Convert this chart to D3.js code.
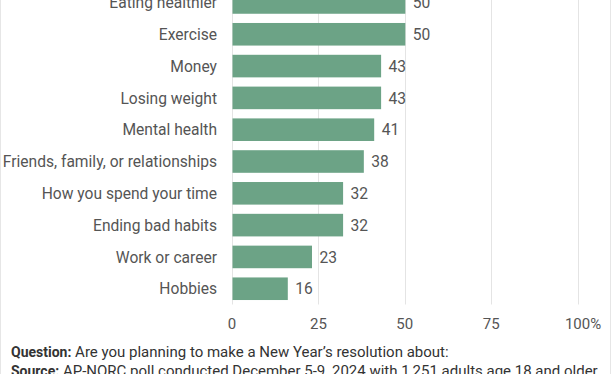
<!DOCTYPE html>
<html>
<head>
<meta charset="utf-8">
<script src="https://cdn.jsdelivr.net/npm/d3@7"></script>
<style>
  html, body { margin: 0; padding: 0; background: #fff; }
  svg { display: block; font-family: Roboto, sans-serif; }
</style>
</head>
<body>
<div id="chart"></div>
<script>
// Resolution topics, share of adults planning a resolution about each (%)
const categories = ['Eating healthier', 'Exercise', 'Money', 'Losing weight', 'Mental health',
  'Friends, family, or relationships', 'How you spend your time', 'Ending bad habits',
  'Work or career', 'Hobbies'];
const values = [50, 50, 43, 43, 41, 38, 32, 32, 23, 16];
const xTicks = [0, 25, 50, 75, 100];

const W = 612, H = 374;
const x0 = 232, x1 = 577.6;

const svg = d3.select('#chart').append('svg').attr('width', W).attr('height', H);

// frame edges
svg.append('line').attr('x1', 0.5).attr('x2', 0.5).attr('y1', 0).attr('y2', H).attr('stroke', '#e6e6e6');
svg.append('line').attr('x1', W - 1.5).attr('x2', W - 1.5).attr('y1', 0).attr('y2', H).attr('stroke', '#e6e6e6');

const x = d3.scaleLinear().domain([0, 100]).range([x0, x1]);
const y = d3.scaleBand().domain(categories).range([-13.6, 304.8]).paddingInner(0.29).paddingOuter(0.15);

// gridlines
svg.append('g').selectAll('line').data(xTicks).join('line')
  .attr('x1', d => Math.round(x(d)) + 0.5).attr('x2', d => Math.round(x(d)) + 0.5)
  .attr('y1', 0).attr('y2', 304.5)
  .attr('stroke', '#e4e4e4').attr('stroke-width', 1);

// bars
svg.append('g').selectAll('rect').data(values).join('rect')
  .attr('x', x(0) + 0.5)
  .attr('y', (d, i) => y(categories[i]))
  .attr('width', d => x(d) - x(0))
  .attr('height', y.bandwidth())
  .attr('fill', '#6ca386');

// category labels
svg.append('g').selectAll('text').data(categories).join('text')
  .attr('x', 217).attr('y', d => y(d) + y.bandwidth() / 2)
  .attr('dy', '0.36em').attr('text-anchor', 'end')
  .attr('font-size', 15.6).attr('fill', '#555').text(d => d);

// value labels
svg.append('g').selectAll('text').data(values).join('text')
  .attr('x', d => x(d) + 8).attr('y', (d, i) => y(categories[i]) + y.bandwidth() / 2)
  .attr('dy', '0.36em')
  .attr('font-size', 15.6).attr('fill', '#555').text(d => d);

// x axis labels
const xAxisG = svg.append('g').attr('transform', 'translate(0,328.5)');
xAxisG.selectAll('text').data(xTicks).join('text')
  .attr('x', d => x(d)).attr('text-anchor', 'middle')
  .attr('font-size', 15).attr('fill', '#555')
  .text(d => d)
  .filter(d => d === 100)
  .append('tspan').text('%');
// keep "100" centred on its gridline, with % hanging off to the right
xAxisG.selectAll('text').filter(d => d === 100).each(function () {
  const full = this.getComputedTextLength();
  const pct = this.querySelector('tspan').getComputedTextLength();
  d3.select(this).attr('text-anchor', 'start').attr('x', x(100) - (full - pct) / 2);
});

// footer
const foot = svg.append('g').attr('font-size', 15).attr('fill', '#333');
const q = foot.append('text').attr('x', 11).attr('y', 357);
q.append('tspan').attr('font-weight', 'bold').attr('font-size', 14).text('Question:');
q.append('tspan').text(' Are you planning to make a New Year’s resolution about:');
const s = foot.append('text').attr('x', 11).attr('y', 375.5);
s.append('tspan').attr('font-weight', 'bold').attr('font-size', 14).text('Source:');
s.append('tspan').text(' AP-NORC poll conducted December 5-9, 2024 with 1,251 adults age 18 and older');
</script>
</body>
</html>
